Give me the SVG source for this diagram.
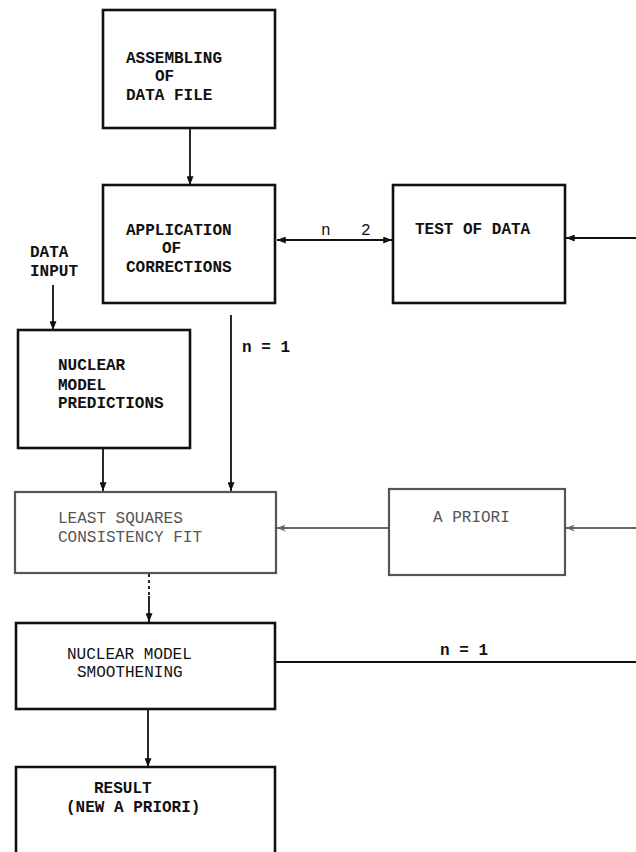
<svg xmlns="http://www.w3.org/2000/svg" width="636" height="852" viewBox="0 0 636 852">
  <style>
    .box { fill: #fff; stroke: #111; stroke-width: 2.6; }
    .box-gray { fill: #fff; stroke: #555; stroke-width: 2.2; }
    .t { font-family: "Liberation Mono", "DejaVu Sans Mono", monospace; font-size: 16px; fill: #111; }
    .b { font-weight: bold; }
    .g { fill: #555; }
    .line { fill: none; stroke: #111; stroke-width: 1.8; }
    .line-gray { fill: none; stroke: #666; stroke-width: 2; }
  </style>
  <defs>
    <marker id="arr" viewBox="0 0 10 8" refX="10" refY="4" markerWidth="9" markerHeight="7" markerUnits="userSpaceOnUse" orient="auto-start-reverse">
      <path d="M0,0 L10,4 L0,8 Z" fill="#111"/>
    </marker>
    <marker id="arr-gray" viewBox="0 0 10 8" refX="10" refY="4" markerWidth="10" markerHeight="7" markerUnits="userSpaceOnUse" orient="auto">
      <path d="M0,0 L10,4 L0,8 L3,4 Z" fill="#666"/>
    </marker>
  </defs>

  <rect width="636" height="852" fill="#fff"/>

  <!-- connectors -->
  <g id="connectors">
    <line class="line" x1="190" y1="128" x2="190" y2="185" marker-end="url(#arr)"/>
    <line class="line" x1="277" y1="240" x2="392" y2="240" stroke-width="2.4" marker-start="url(#arr)" marker-end="url(#arr)"/>
    <line class="line" x1="636" y1="238" x2="566" y2="238" marker-end="url(#arr)"/>
    <line class="line" x1="53" y1="285" x2="53" y2="330" marker-end="url(#arr)"/>
    <line class="line" x1="231" y1="315" x2="231" y2="491" marker-end="url(#arr)"/>
    <line class="line" x1="103" y1="448" x2="103" y2="491" marker-end="url(#arr)"/>
    <line class="line-gray" x1="389" y1="528" x2="277" y2="528" marker-end="url(#arr-gray)"/>
    <line class="line-gray" x1="636" y1="528" x2="566" y2="528" marker-end="url(#arr-gray)"/>
    <line class="line" x1="149" y1="574" x2="149" y2="596" stroke-dasharray="3 3"/>
    <line class="line" x1="149" y1="596" x2="149" y2="622" marker-end="url(#arr)"/>
    <line class="line" x1="276" y1="662" x2="636" y2="662" stroke-width="2.2"/>
    <line class="line" x1="148" y1="709" x2="148" y2="767" marker-end="url(#arr)"/>
    <text class="t" x="321" y="235" font-size="13">n</text>
    <text class="t" x="361" y="235" font-size="13">2</text>
    <text class="t b" x="242" y="352">n = 1</text>
    <text class="t b" x="440" y="655">n = 1</text>
  </g>

  <g id="assembling">
    <rect class="box" x="103" y="10" width="172" height="118"/>
    <text class="t b" x="126" y="63">ASSEMBLING</text>
    <text class="t b" x="155" y="81">OF</text>
    <text class="t b" x="126" y="100">DATA FILE</text>
  </g>

  <g id="application">
    <rect class="box" x="103" y="185" width="172" height="118"/>
    <text class="t b" x="126" y="235">APPLICATION</text>
    <text class="t b" x="162" y="253">OF</text>
    <text class="t b" x="126" y="272">CORRECTIONS</text>
  </g>

  <g id="test-of-data">
    <rect class="box" x="393" y="185" width="172" height="118"/>
    <text class="t b" x="415" y="234">TEST OF DATA</text>
  </g>

  <g id="data-input">
    <text class="t b" x="30" y="257">DATA</text>
    <text class="t b" x="30" y="276">INPUT</text>
  </g>

  <g id="nuclear-model-predictions">
    <rect class="box" x="18" y="330" width="172" height="118"/>
    <text class="t b" x="58" y="370">NUCLEAR</text>
    <text class="t b" x="58" y="390">MODEL</text>
    <text class="t b" x="58" y="408">PREDICTIONS</text>
  </g>

  <g id="least-squares">
    <rect class="box-gray" x="15" y="492" width="261" height="81"/>
    <text class="t g" x="58" y="523">LEAST SQUARES</text>
    <text class="t g" x="58" y="542">CONSISTENCY FIT</text>
  </g>

  <g id="a-priori">
    <rect class="box-gray" x="389" y="489" width="176" height="86" stroke-width="1.8"/>
    <text class="t g" x="433" y="522">A PRIORI</text>
  </g>

  <g id="smoothening">
    <rect class="box" x="16" y="623" width="259" height="86"/>
    <text class="t" x="67" y="659">NUCLEAR MODEL</text>
    <text class="t" x="77" y="677">SMOOTHENING</text>
  </g>

  <g id="result">
    <path class="box" d="M16,860 L16,767 L275,767 L275,860"/>
    <text class="t b" x="94" y="793">RESULT</text>
    <text class="t b" x="66" y="812">(NEW A PRIORI)</text>
  </g>
</svg>
